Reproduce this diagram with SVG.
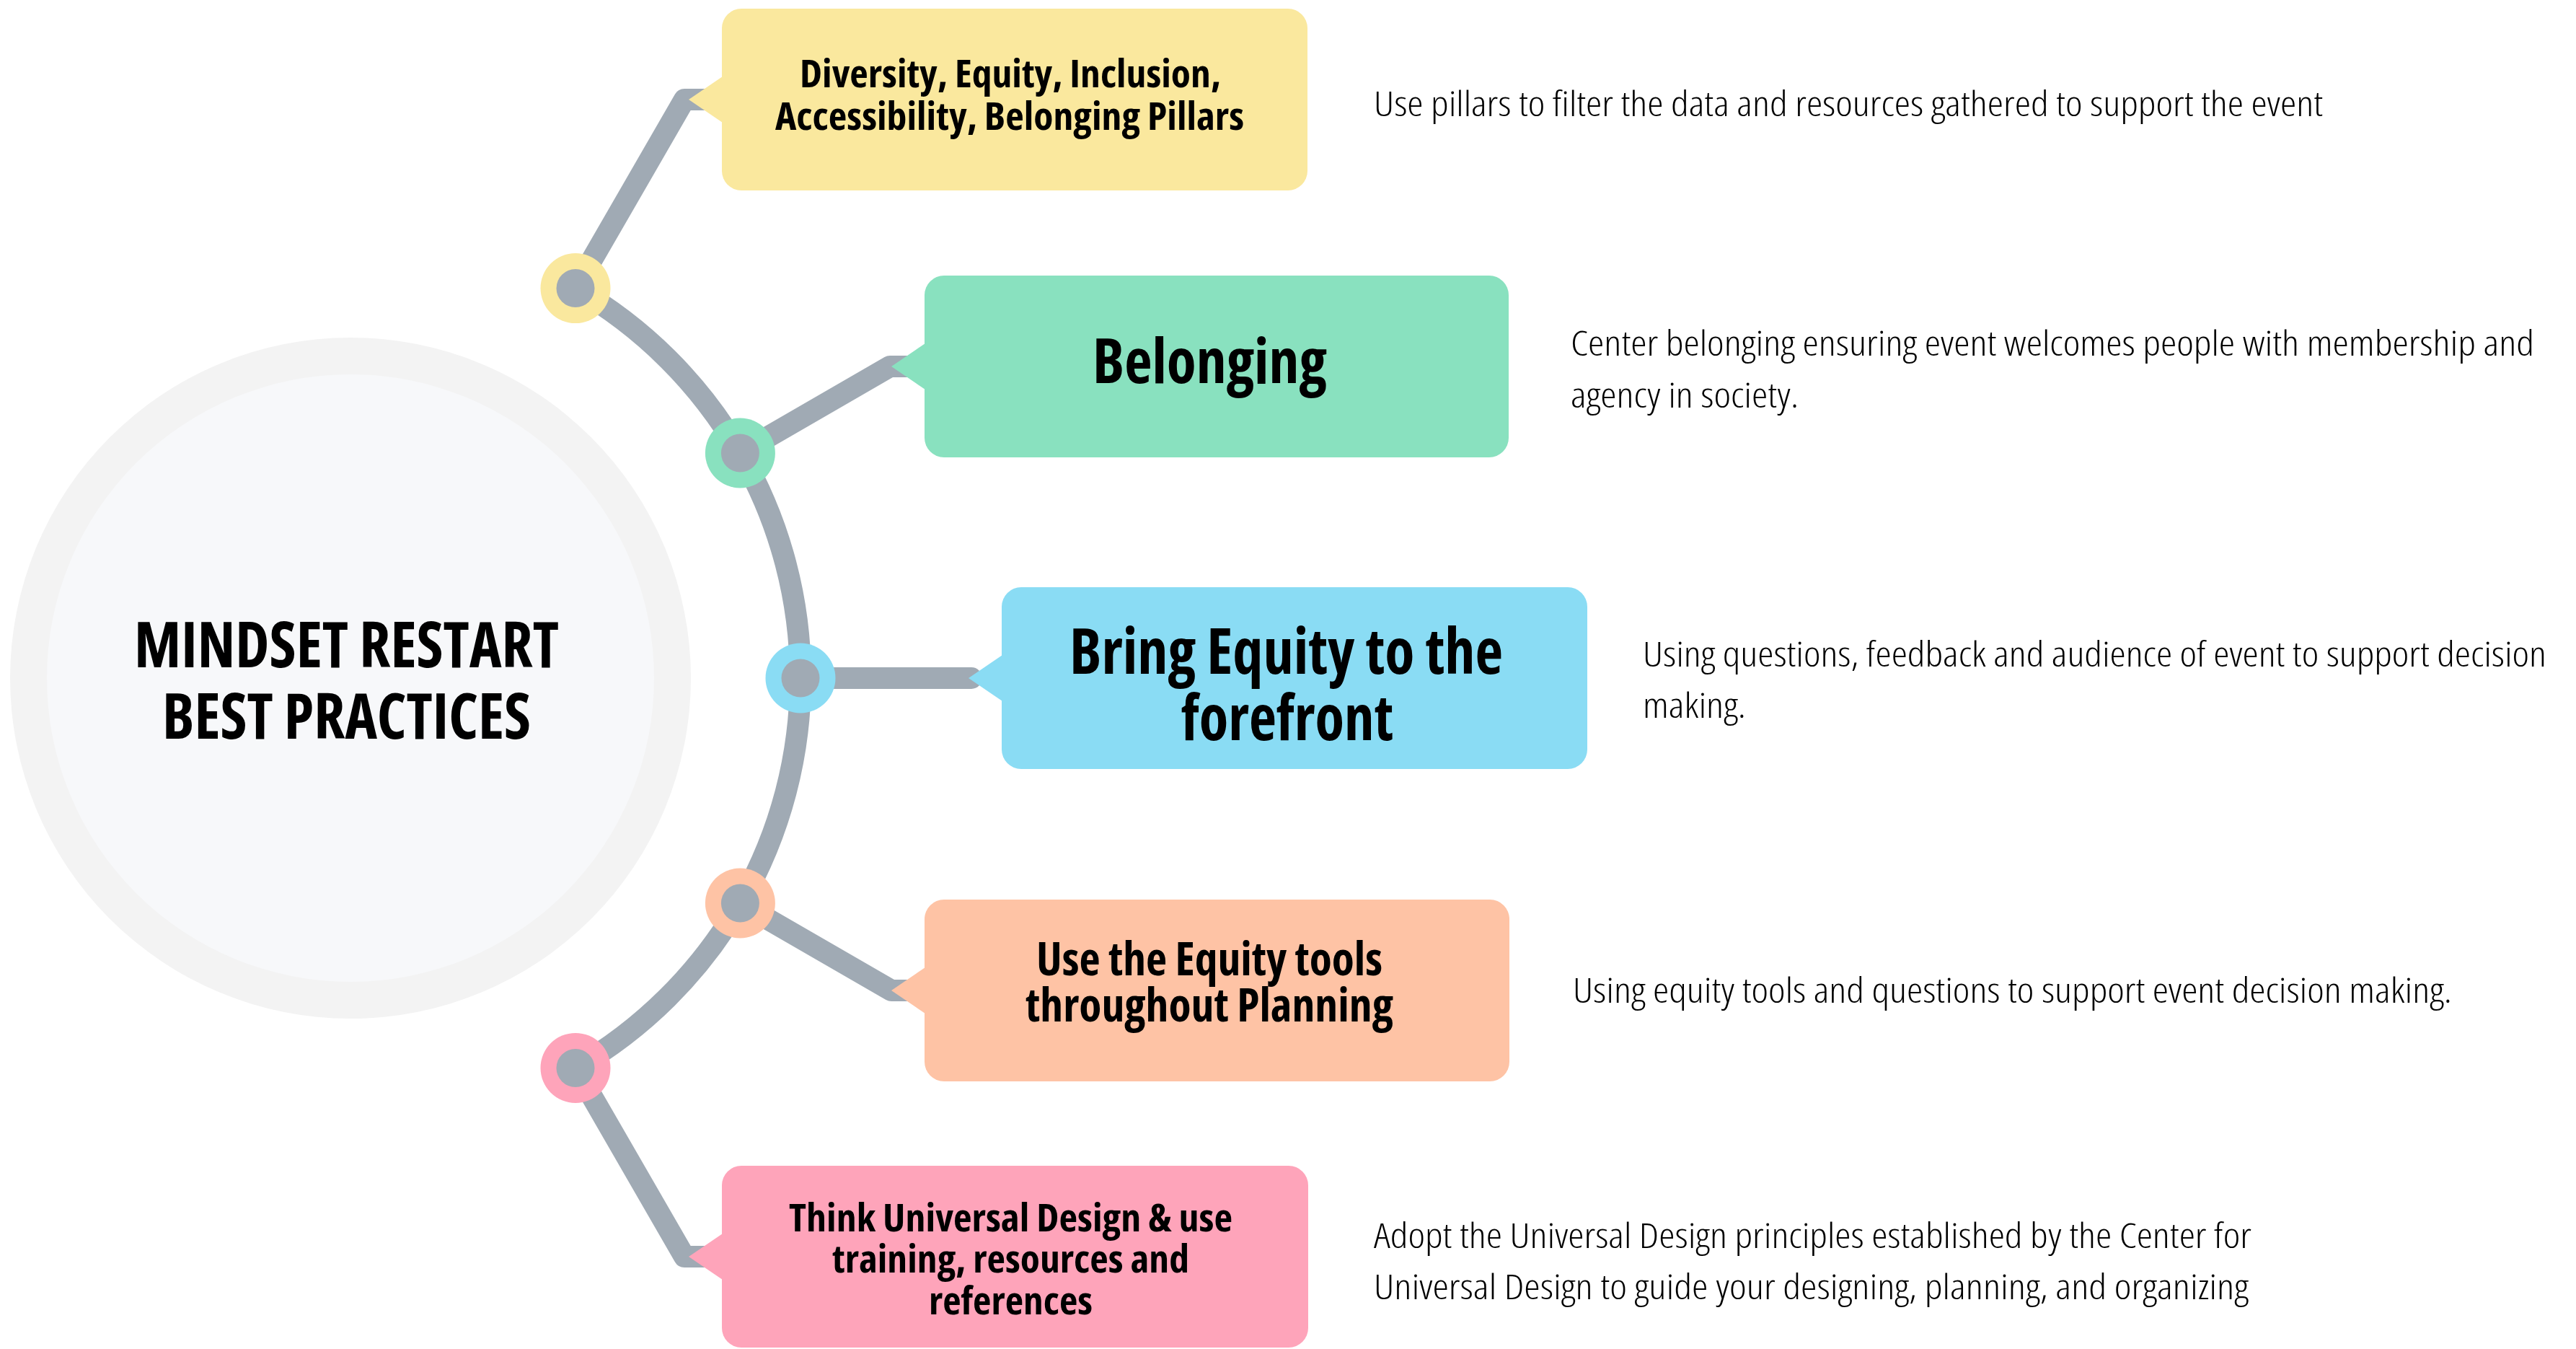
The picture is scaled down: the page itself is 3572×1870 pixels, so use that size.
<svg xmlns="http://www.w3.org/2000/svg" width="3572" height="1870" viewBox="0 0 3572 1870">
<style>
.conn{fill:none;stroke:#a0aab4;stroke-width:30;stroke-linecap:round;stroke-linejoin:round}
.core{fill:#a0aab4}
.t{font-family:"Open Sans","Liberation Sans",sans-serif;font-stretch:condensed;fill:#000}
.b{font-weight:700}
.d{font-weight:300;font-size:48px}
</style>
<rect width="3572" height="1870" fill="#ffffff"/>
<g id="center">
<circle cx="486" cy="940" r="472" fill="#f3f3f3"/>
<circle cx="486" cy="940" r="421" fill="#f7f8fa"/>
<text class="t b" font-size="87" x="186" y="925" textLength="589" lengthAdjust="spacingAndGlyphs">MINDSET RESTART</text>
<text class="t b" font-size="87" x="225" y="1024" textLength="511" lengthAdjust="spacingAndGlyphs">BEST PRACTICES</text>
</g>
<g id="connectors">
<path class="conn" d="M 798 399.6 A 624 624 0 0 1 798 1480.4"/>
<polyline class="conn" points="798,399.6 949,138 995,138"/>
<polyline class="conn" points="1026.4,628 1234,508 1270,508"/>
<polyline class="conn" points="1110,940 1347,940"/>
<polyline class="conn" points="1026.4,1252 1236,1373 1270,1373"/>
<polyline class="conn" points="798,1480.4 949,1742 995,1742"/>
</g>
<g id="node1">
<rect x="1001" y="12" width="812" height="252" rx="27" fill="#fae89e"/>
<polygon points="955,138 1002,106 1002,170" fill="#fae89e"/>
<circle cx="798" cy="399.6" r="48.5" fill="#fae89e"/>
<circle cx="798" cy="399.6" r="26.5" class="core"/>
<text class="t b" font-size="54" x="1109" y="121" textLength="584" lengthAdjust="spacingAndGlyphs">Diversity, Equity, Inclusion,</text>
<text class="t b" font-size="54" x="1075" y="180" textLength="650" lengthAdjust="spacingAndGlyphs">Accessibility, Belonging Pillars</text>
<text class="t d" x="1905" y="161" textLength="1316" lengthAdjust="spacingAndGlyphs">Use pillars to filter the data and resources gathered to support the event</text>
</g>
<g id="node2">
<rect x="1282" y="382" width="810" height="252" rx="27" fill="#89e1bf"/>
<polygon points="1236,508 1283,476 1283,540" fill="#89e1bf"/>
<circle cx="1026.4" cy="628" r="48.5" fill="#89e1bf"/>
<circle cx="1026.4" cy="628" r="26.5" class="core"/>
<text class="t b" font-size="86" x="1515" y="531" textLength="325" lengthAdjust="spacingAndGlyphs">Belonging</text>
<text class="t d" x="2178" y="493" textLength="1336" lengthAdjust="spacingAndGlyphs">Center belonging ensuring event welcomes people with membership and</text>
<text class="t d" x="2178" y="565" textLength="316" lengthAdjust="spacingAndGlyphs">agency in society.</text>
</g>
<g id="node3">
<rect x="1389" y="814" width="812" height="252" rx="27" fill="#8adcf4"/>
<polygon points="1343,940 1390,908 1390,972" fill="#8adcf4"/>
<circle cx="1110" cy="940" r="48.5" fill="#8adcf4"/>
<circle cx="1110" cy="940" r="26.5" class="core"/>
<text class="t b" font-size="87" x="1483" y="934" textLength="601" lengthAdjust="spacingAndGlyphs">Bring Equity to the</text>
<text class="t b" font-size="87" x="1638" y="1026" textLength="294" lengthAdjust="spacingAndGlyphs">forefront</text>
<text class="t d" x="2278" y="924" textLength="1253" lengthAdjust="spacingAndGlyphs">Using questions, feedback and audience of event to support decision</text>
<text class="t d" x="2278" y="995" textLength="143" lengthAdjust="spacingAndGlyphs">making.</text>
</g>
<g id="node4">
<rect x="1282" y="1247" width="811" height="252" rx="27" fill="#fec3a5"/>
<polygon points="1236,1373 1283,1341 1283,1405" fill="#fec3a5"/>
<circle cx="1026.4" cy="1252" r="48.5" fill="#fec3a5"/>
<circle cx="1026.4" cy="1252" r="26.5" class="core"/>
<text class="t b" font-size="64" x="1437" y="1352" textLength="480" lengthAdjust="spacingAndGlyphs">Use the Equity tools</text>
<text class="t b" font-size="64" x="1422" y="1416" textLength="510" lengthAdjust="spacingAndGlyphs">throughout Planning</text>
<text class="t d" x="2181" y="1390" textLength="1219" lengthAdjust="spacingAndGlyphs">Using equity tools and questions to support event decision making.</text>
</g>
<g id="node5">
<rect x="1001" y="1616" width="813" height="252" rx="27" fill="#fea4ba"/>
<polygon points="955,1742 1002,1710 1002,1774" fill="#fea4ba"/>
<circle cx="798" cy="1480.4" r="48.5" fill="#fea4ba"/>
<circle cx="798" cy="1480.4" r="26.5" class="core"/>
<text class="t b" font-size="54" x="1094" y="1707" textLength="615" lengthAdjust="spacingAndGlyphs">Think Universal Design &amp; use</text>
<text class="t b" font-size="54" x="1154" y="1764" textLength="495" lengthAdjust="spacingAndGlyphs">training, resources and</text>
<text class="t b" font-size="54" x="1288" y="1822" textLength="227" lengthAdjust="spacingAndGlyphs">references</text>
<text class="t d" x="1905" y="1730" textLength="1217" lengthAdjust="spacingAndGlyphs">Adopt the Universal Design principles established by the Center for</text>
<text class="t d" x="1905" y="1801" textLength="1213" lengthAdjust="spacingAndGlyphs">Universal Design to guide your designing, planning, and organizing</text>
</g>
</svg>
